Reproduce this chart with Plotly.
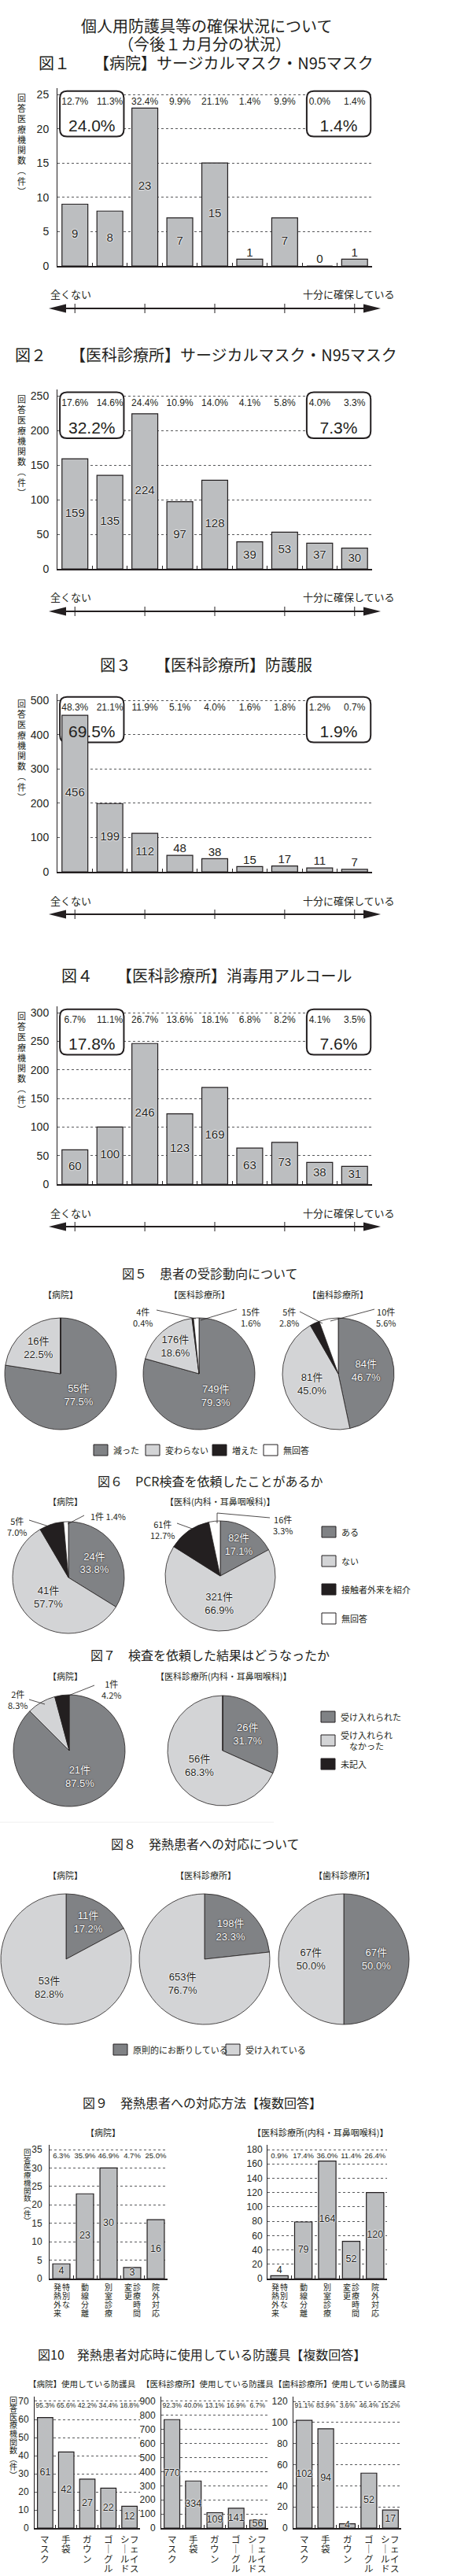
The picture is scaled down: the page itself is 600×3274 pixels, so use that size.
import plotly.graph_objects as go

W, H = 600, 3274
JP = "Noto Sans CJK JP, Noto Sans, sans-serif"
NUM = "Liberation Sans Narrow, Liberation Sans, Noto Sans CJK JP, sans-serif"
INK = "#231f20"
BAR_FILL = "#bcbec0"
C_DARK = "#808285"
C_LIGHT = "#d3d4d6"
C_BLACK = "#231f20"
C_WHITE = "#ffffff"
GRID = "#58595b"
HALO_W = "0px 0px 2px #ffffff, 0px 0px 2px #ffffff, 0px 0px 1px #ffffff"
HALO_D = "0px 0px 2px #231f20, 0px 0px 1px #231f20"

# ================= data =================
title_main = ["個人用防護具等の確保状況について", "（今後１カ月分の状況）"]
scale_left_label = "全くない"
scale_right_label = "十分に確保している"
y_title = "回答医療機関数（件）"

fig1_title = "図１　　【病院】サージカルマスク・N95マスク"
fig1_vals = [9, 8, 23, 7, 15, 1, 7, 0, 1]
fig1_pcts = [12.7, 11.3, 32.4, 9.9, 21.1, 1.4, 9.9, 0.0, 1.4]
fig1_box = [24.0, 1.4]

fig2_title = "図２　　【医科診療所】サージカルマスク・N95マスク"
fig2_vals = [159, 135, 224, 97, 128, 39, 53, 37, 30]
fig2_pcts = [17.6, 14.6, 24.4, 10.9, 14.0, 4.1, 5.8, 4.0, 3.3]
fig2_box = [32.2, 7.3]

fig3_title = "図３　　【医科診療所】防護服"
fig3_vals = [456, 199, 112, 48, 38, 15, 17, 11, 7]
fig3_pcts = [48.3, 21.1, 11.9, 5.1, 4.0, 1.6, 1.8, 1.2, 0.7]
fig3_box = [69.5, 1.9]

fig4_title = "図４　　【医科診療所】消毒用アルコール"
fig4_vals = [60, 100, 246, 123, 169, 63, 73, 38, 31]
fig4_pcts = [6.7, 11.1, 26.7, 13.6, 18.1, 6.8, 8.2, 4.1, 3.5]
fig4_box = [17.8, 7.6]

fig5_title = "図５　患者の受診動向について"
fig5_labels = ["減った", "変わらない", "増えた", "無回答"]
fig5_groups = ["【病院】", "【医科診療所】", "【歯科診療所】"]
fig5_hosp = [55, 16, 0, 0]
fig5_med = [749, 176, 4, 15]
fig5_dent = [84, 81, 5, 10]

fig6_title = "図６　PCR検査を依頼したことがあるか"
fig6_labels = ["ある", "ない", "接触者外来を紹介", "無回答"]
fig6_groups = ["【病院】", "【医科(内科・耳鼻咽喉科)】"]
fig6_hosp = [24, 41, 5, 1]
fig6_med = [82, 321, 61, 16]

fig7_title = "図７　検査を依頼した結果はどうなったか"
fig7_labels = ["受け入れられた", "受け入れられなかった", "未記入"]
fig7_groups = ["【病院】", "【医科診療所(内科・耳鼻咽喉科)】"]
fig7_hosp = [21, 2, 1]
fig7_med = [26, 56, 0]

fig8_title = "図８　発熱患者への対応について"
fig8_labels = ["原則的にお断りしている", "受け入れている"]
fig8_groups = ["【病院】", "【医科診療所】", "【歯科診療所】"]
fig8_hosp = [11, 53]
fig8_med = [198, 653]
fig8_dent = [67, 67]

fig9_title = "図９　発熱患者への対応方法【複数回答】"
fig9_groups = ["【病院】", "【医科診療所(内科・耳鼻咽喉科)】"]
fig9_cats = [["特別な", "発熱外来"], ["動線分離"], ["別室診療"], ["診療時間", "変更"], ["院外対応"]]
fig9_hosp = [4, 23, 30, 3, 16]
fig9_hosp_pcts = [6.3, 35.9, 46.9, 4.7, 25.0]
fig9_med = [4, 79, 164, 52, 120]
fig9_med_pcts = [0.9, 17.4, 36.0, 11.4, 26.4]

fig10_title = "図10　発熱患者対応時に使用している防護具【複数回答】"
fig10_groups = ["【病院】使用している防護具", "【医科診療所】使用している防護具", "【歯科診療所】使用している防護具"]
fig10_cats = [["マスク"], ["手袋"], ["ガウン"], ["ゴーグル"], ["フェイス", "シールド"]]
fig10_hosp = [61, 42, 27, 22, 12]
fig10_hosp_pcts = [95.3, 65.6, 42.2, 34.4, 18.8]
fig10_med = [770, 334, 109, 141, 56]
fig10_med_pcts = [92.3, 40.0, 13.1, 16.9, 6.7]
fig10_dent = [102, 94, 4, 52, 17]
fig10_dent_pcts = [91.1, 83.9, 3.6, 46.4, 15.2]

# ================= helpers =================
fig = go.Figure()
shapes, annos, layout_axes, axes = [], [], {}, []
VERT = {"（": "︵", "）": "︶", "ー": "｜"}
HEAD = 0.035  # extra headroom above the top gridline (fraction of range)


def px(x):
    return min(max(x / W, 0.0), 1.0)


def py(y):
    return min(max(1 - y / H, 0.0), 1.0)


def text(x, y, s, size, family=JP, color=INK, xanchor="center", yanchor="middle"):
    annos.append(dict(x=px(x), y=py(y), xref="paper", yref="paper", text=s, showarrow=False,
                      xanchor=xanchor, yanchor=yanchor,
                      font=dict(family=family, size=size, color=color)))


def line(x0, y0, x1, y1, width=1.0, color=INK):
    shapes.append(dict(type="line", xref="paper", yref="paper", x0=px(x0), y0=py(y0),
                       x1=px(x1), y1=py(y1), line=dict(color=color, width=width)))


def polyline(pts, width=0.8):
    path = "M" + " L".join(f"{px(a)},{py(b)}" for a, b in pts)
    shapes.append(dict(type="path", xref="paper", yref="paper", path=path,
                       line=dict(color=INK, width=width)))


def poly(pts):
    path = "M" + " L".join(f"{px(a)},{py(b)}" for a, b in pts) + " Z"
    shapes.append(dict(type="path", xref="paper", yref="paper", path=path,
                       fillcolor=INK, line=dict(color=INK, width=0)))


def rect(x0, y0, x1, y1, fill):
    shapes.append(dict(type="rect", xref="paper", yref="paper", x0=px(x0), y0=py(y1),
                       x1=px(x1), y1=py(y0), fillcolor=fill, line=dict(color=INK, width=1)))


def vtext(x, y0, s, pitch, size):
    for j, ch in enumerate(s):
        text(x, y0 + j * pitch, VERT.get(ch, ch), size)


def rrect_path(x0, x1, y0, y1, rx, ry):
    return (f"M{x0 + rx},{y0} L{x1 - rx},{y0} Q{x1},{y0} {x1},{y0 + ry} "
            f"L{x1},{y1 - ry} Q{x1},{y1} {x1 - rx},{y1} L{x0 + rx},{y1} "
            f"Q{x0},{y1} {x0},{y1 - ry} L{x0},{y0 + ry} Q{x0},{y0} {x0 + rx},{y0} Z")


def add_axes(x0, x1, ytop, ybot, ymax, dtick, ncat, tsize, standoff):
    n = len(axes) + 1
    sfx = "" if n == 1 else str(n)
    axes.append(sfx)
    hp = ybot - ytop
    layout_axes[f"xaxis{sfx}"] = dict(
        domain=[px(x0), px(x1)], anchor=f"y{sfx}", range=[-0.5, ncat - 0.5],
        showgrid=False, zeroline=False, showline=True, linecolor=INK, linewidth=1.5,
        tickmode="array", tickvals=[i + 0.5 for i in range(ncat)], ticks="inside",
        ticklen=4, tickcolor=INK, tickwidth=1, showticklabels=False, fixedrange=True)
    layout_axes[f"yaxis{sfx}"] = dict(
        domain=[py(ybot), py(ytop - HEAD * hp)], anchor=f"x{sfx}",
        range=[0, ymax * (1 + HEAD)],
        tickmode="array", tickvals=list(range(0, ymax + 1, dtick)), showgrid=True,
        gridcolor=GRID, griddash="3px,3px", gridwidth=1, zeroline=False, showline=True,
        linecolor=INK, linewidth=1, ticks="",
        tickfont=dict(family=NUM, size=tsize, color=INK), ticklabelstandoff=standoff,
        fixedrange=True)
    return f"x{sfx}", f"y{sfx}"


def txt_trace(xa, ya, xs, ys, texts, pos, size, shadow=None, family=NUM):
    tf = dict(family=family, size=size, color=INK)
    if shadow:
        tf["shadow"] = shadow
    fig.add_trace(go.Scatter(x=xs, y=ys, text=texts, mode="text", textposition=pos,
                             textfont=tf, xaxis=xa, yaxis=ya, cliponaxis=False,
                             hoverinfo="skip", showlegend=False))


def bars(xa, ya, vals, pcts, ymax, inside_min, vsize, psize, pfrac, bw):
    cats = list(range(len(vals)))
    fig.add_trace(go.Bar(x=cats, y=vals, width=bw,
                         marker=dict(color=BAR_FILL, line=dict(color=INK, width=1.2)),
                         xaxis=xa, yaxis=ya, hoverinfo="skip", showlegend=False))
    ins = [(i, v) for i, v in zip(cats, vals) if v >= inside_min]
    outs = [(i, v) for i, v in zip(cats, vals) if v < inside_min]
    if ins:
        txt_trace(xa, ya, [i for i, _ in ins], [v / 2 for _, v in ins],
                  [str(v) for _, v in ins], "middle center", vsize, HALO_W)
    if outs:
        txt_trace(xa, ya, [i for i, _ in outs], [v for _, v in outs],
                  [str(v) for _, v in outs], "top center", vsize, HALO_W)
    txt_trace(xa, ya, cats, [ymax * pfrac] * len(cats), [f"{p:.1f}%" for p in pcts],
              "middle center", psize)


def boxes(xa, ya, box_vals, ymax, wpx, hpx, ncat=9):
    spans = [(-0.43, 1.40), (6.63, 8.46)]
    rx = 9 * ncat / wpx
    ry = 9 * ymax / hpx
    for c0, c1 in spans:
        shapes.append(dict(type="path", xref=xa, yref=ya,
                           path=rrect_path(c0, c1, 0.755 * ymax, 1.02 * ymax, rx, ry),
                           fillcolor="white", line=dict(color=INK, width=2), layer="between"))
    txt_trace(xa, ya, [(a + b) / 2 for a, b in spans], [0.807 * ymax] * 2,
              [f"{v:.1f}%" for v in box_vals], "middle center", 21)


def scale_arrow(xa, bot):
    yl, yr = bot + 36, bot + 54
    text(62, yl, scale_left_label, 13, xanchor="left")
    text(504, yl, scale_right_label, 13, xanchor="right")
    line(80, yr, 466, yr, width=2.2)
    poly([(62, yr), (84, yr - 5.5), (84, yr + 5.5)])
    poly([(484, yr), (462, yr - 5.5), (462, yr + 5.5)])
    for c in (0, 2, 4, 6, 8):
        shapes.append(dict(type="line", xref=xa, yref="paper", x0=c, x1=c,
                           y0=py(yr + 6), y1=py(yr - 6), line=dict(color=INK, width=1)))


def cat_labels(xa, ya, cats, offset, pitch, size, gap):
    for ci, cols in enumerate(cats):
        nc = len(cols)
        for k, col in enumerate(cols):
            xs = ((nc - 1) / 2 - k) * gap
            for j, ch in enumerate(col):
                annos.append(dict(x=ci, y=0, xref=xa, yref=ya, text=VERT.get(ch, ch),
                                  showarrow=False, xanchor="center", yanchor="middle",
                                  xshift=xs, yshift=-(offset + j * pitch),
                                  font=dict(family=JP, size=size, color=INK)))


def pie(vals, labels, colors, cx, cy, r, small=None):
    small = small or {}
    tot = sum(vals)
    pct = [v / tot * 100 for v in vals]
    txt = [f"{v}件<br>{p:.1f}%" for v, p in zip(vals, pct)]
    pos = ["none" if (i in small or v == 0) else "inside" for i, v in enumerate(vals)]
    fcol = ["#ffffff" if c == C_DARK else INK for c in colors]
    fsh = [HALO_D if c == C_DARK else HALO_W for c in colors]
    fig.add_trace(go.Pie(
        values=vals, labels=labels, sort=False, direction="clockwise", rotation=0,
        domain=dict(x=[px(cx - r), px(cx + r)], y=[py(cy + r), py(cy - r)]),
        marker=dict(colors=colors, line=dict(color=INK, width=0.8)),
        text=txt, textinfo="text", textposition=pos, insidetextorientation="horizontal",
        insidetextfont=dict(family=NUM, size=13, color=fcol, shadow=fsh),
        hoverinfo="skip", showlegend=False))
    for i, spec in small.items():
        (tx, ty), pts = spec[0], spec[1]
        s = (f"{vals[i]}件 {pct[i]:.1f}%" if len(spec) > 2 else f"{vals[i]}件<br>{pct[i]:.1f}%")
        text(tx, ty, s, 11)
        polyline(pts)


def legend_h(labels, colors, xs, y):
    for lab, c, x in zip(labels, colors, xs):
        rect(x, y - 7, x + 18, y + 7, c)
        text(x + 23, y, lab, 11, xanchor="left")


def legend_v(labels, colors, x, ys):
    for lab, c, y in zip(labels, colors, ys):
        rect(x, y - 7, x + 18, y + 7, c)
        s = lab if len(lab) <= 8 else lab[:6] + "<br>" + lab[6:]
        text(x + 23, y, s, 11, xanchor="left")


# ================= figures 1-4 =================
text(262, 32, title_main[0], 20)
text(260, 56, title_main[1], 20)

bar_sets = [(fig1_title, fig1_vals, fig1_pcts, fig1_box),
            (fig2_title, fig2_vals, fig2_pcts, fig2_box),
            (fig3_title, fig3_vals, fig3_pcts, fig3_box),
            (fig4_title, fig4_vals, fig4_pcts, fig4_box)]
bar_geo = [(80, 120, 338, 25, 5, 2),
           (450, 503, 723, 250, 50, 1),
           (845, 890, 1108, 500, 100, 100),
           (1240, 1287, 1505, 300, 50, 1)]
for (ttl, vals, pcts, box), (ty, top, bot, ymax, dt, imin) in zip(bar_sets, bar_geo):
    text(262, ty, ttl, 20)
    xa, ya = add_axes(73, 473, top, bot, ymax, dt, 9, 14, 7)
    bars(xa, ya, vals, pcts, ymax, imin, 15, 12, 0.953, 0.74)
    boxes(xa, ya, box, ymax, 400, bot - top)
    vtext(27, top + 4, y_title, 13.2, 11)
    scale_arrow(xa, bot)

# ================= figure 5 =================
C4 = [C_DARK, C_LIGHT, C_BLACK, C_WHITE]
text(267, 1618, fig5_title, 16)
for g, x in zip(fig5_groups, [77, 253, 429]):
    text(x, 1645, g, 11)
pie(fig5_hosp, fig5_labels, C4, 77, 1746, 71)
pie(fig5_med, fig5_labels, C4, 253, 1746, 71,
    {2: ((181, 1674), [(199, 1665), (249, 1676)]),
     3: ((318, 1674), [(301, 1664), (255, 1678)])})
pie(fig5_dent, fig5_labels, C4, 430, 1746, 71,
    {2: ((367, 1674), [(381, 1667), (410, 1682)]),
     3: ((490, 1674), [(476, 1664), (420, 1679)])})
legend_h(fig5_labels, C4, [119, 185, 270, 335], 1843)

# ================= figure 6 =================
text(267, 1882, fig6_title, 16)
for g, x in zip(fig6_groups, [83, 279]):
    text(x, 1908, g, 11)
pie(fig6_hosp, fig6_labels, C4, 87, 2005, 71,
    {2: ((21, 1940), [(37, 1932), (62, 1940)]),
     3: ((137, 1927), [(107, 1926), (86, 1937)], "oneline")})
pie(fig6_med, fig6_labels, C4, 280, 2003, 70,
    {2: ((207, 1944), [(225, 1936), (247, 1944)]),
     3: ((359, 1938), [(343, 1929), (276, 1923), (276, 1936)])})
legend_v(fig6_labels, C4, 409, [1947, 1984, 2020, 2057])

# ================= figure 7 =================
C3 = [C_DARK, C_LIGHT, C_BLACK]
text(267, 2103, fig7_title, 16)
for g, x in zip(fig7_groups, [83, 284]):
    text(x, 2130, g, 11)
pie(fig7_hosp, fig7_labels, C3, 88, 2225, 71,
    {1: ((22, 2160), [(37, 2160), (57, 2166)]),
     2: ((141, 2147), [(120, 2142), (82, 2157)])})
pie(fig7_med, fig7_labels, C3, 283, 2225, 70)
legend_v(fig7_labels, C3, 408, [2182, 2212, 2242])
line(0, 2316, 348, 2316, width=1, color="#eeeeee")

# ================= figure 8 =================
C2 = [C_DARK, C_LIGHT]
text(261, 2343, fig8_title, 16)
for g, x in zip(fig8_groups, [83, 261, 437]):
    text(x, 2383, g, 11)
pie(fig8_hosp, fig8_labels, C2, 84, 2490, 83)
pie(fig8_med, fig8_labels, C2, 260, 2490, 83)
pie(fig8_dent, fig8_labels, C2, 437, 2490, 83)
legend_h(fig8_labels, C2, [144, 287], 2605)

# ================= figure 9 =================
text(257, 2672, fig9_title, 16)
for g, x in zip(fig9_groups, [131, 407]):
    text(x, 2710, g, 11)
xa, ya = add_axes(63, 213, 2732, 2896, 35, 5, 5, 12, 6)
bars(xa, ya, fig9_hosp, fig9_hosp_pcts, 35, 1, 12.5, 9.5, 0.945, 0.73)
cat_labels(xa, ya, fig9_cats, 10, 11.3, 10, 11)
vtext(35, 2735, y_title, 9.7, 9.5)
xa, ya = add_axes(340, 492, 2732, 2896, 180, 20, 5, 12, 3)
bars(xa, ya, fig9_med, fig9_med_pcts, 180, 10, 12.5, 9.5, 0.945, 0.73)
cat_labels(xa, ya, fig9_cats, 10, 11.3, 10, 11)

# ================= figure 10 =================
text(256, 2992, fig10_title, 16)
for g, x in zip(fig10_groups, [104, 264, 432]):
    text(x, 3029, g, 10.5)
f10 = [(fig10_hosp, fig10_hosp_pcts, 44, 178, 70, 10),
       (fig10_med, fig10_med_pcts, 205, 341, 900, 100),
       (fig10_dent, fig10_dent_pcts, 373, 510, 120, 20)]
for vals, pcts, x0, x1, ymax, dt in f10:
    xa, ya = add_axes(x0, x1, 3052, 3213, ymax, dt, 5, 12, 4)
    bars(xa, ya, vals, pcts, ymax, 1, 12.5, 8.6, 0.963, 0.73)
    cat_labels(xa, ya, fig10_cats, 14, 12.3, 11.5, 12)
vtext(17, 3050, y_title, 10.6, 10)

fig.update_layout(
    width=W, height=H, margin=dict(l=0, r=0, t=0, b=0), template="none",
    paper_bgcolor="white", plot_bgcolor="white", showlegend=False, hovermode=False,
    shapes=shapes, annotations=annos, font=dict(family=JP, color=INK), **layout_axes)

fig.write_html("out.html", config={"displayModeBar": False, "staticPlot": True},
               post_script="document.body.style.margin='0';")
